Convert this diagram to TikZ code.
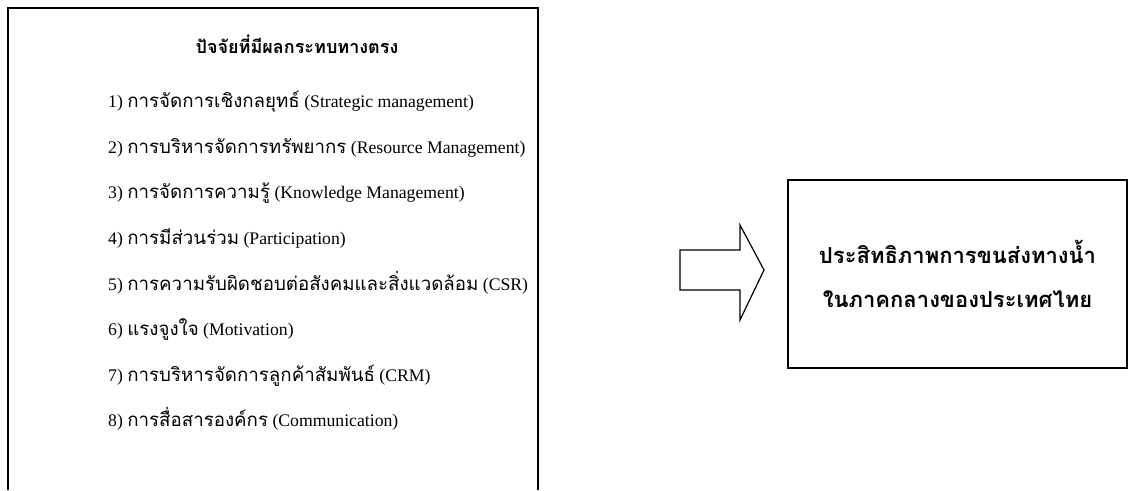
\documentclass[tikz,border=0pt]{standalone}
\usepackage{fontspec}
\setmainfont{Liberation Serif}
\newfontfamily\thai[Script=Thai]{Loma}
\newcommand{\thx}[1]{{\thai #1}}
\newcommand{\ti}[1]{{\fontsize{18.7}{20}\selectfont\thai #1}}
\begin{document}
\begin{tikzpicture}[x=1pt,y=-1pt,
  frame/.style={line width=1.3pt,black},
  item/.style={anchor=base west,inner sep=0pt,font=\fontsize{17.7}{20}\selectfont},
  title/.style={anchor=base,inner sep=0pt,font=\fontsize{18}{20}\selectfont\bfseries},
  blockarrow/.style={line width=1.2pt,line join=miter}]
\useasboundingbox (0,0) rectangle (1132,490);
% left box (open at bottom)
\draw[frame] (8,490) -- (8,8) -- (538,8) -- (538,490);
\node[title] (t) at (297,53) {\thx{ปัจจัยที่มีผลกระทบทางตรง}};
\node[item] (i1) at (108,107) {1) \ti{การจัดการเชิงกลยุทธ์} (Strategic management)};
\node[item] (i2) at (108,153) {2) \ti{การบริหารจัดการทรัพยากร} (Resource Management)};
\node[item] (i3) at (108,198) {3) \ti{การจัดการความรู้} (Knowledge Management)};
\node[item] (i4) at (108,244) {4) \ti{การมีส่วนร่วม} (Participation)};
\node[item] (i5) at (108,290) {5) \ti{การความรับผิดชอบต่อสังคมและสิ่งแวดล้อม} (CSR)};
\node[item] (i6) at (108,335) {6) \ti{แรงจูงใจ} (Motivation)};
\node[item] (i7) at (108,381) {7) \ti{การบริหารจัดการลูกค้าสัมพันธ์} (CRM)};
\node[item] (i8) at (108,426) {8) \ti{การสื่อสารองค์กร} (Communication)};
% right box
\node[draw,frame,minimum width=339pt,minimum height=188pt,inner sep=0pt,
  align=center,font=\fontsize{22}{44}\selectfont\bfseries] (r) at (957.5,274)
  {\thx{ประสิทธิภาพการขนส่งทางน้ำ}\\\thx{ในภาคกลางของประเทศไทย}};
% block arrow
\coordinate (a0) at (680,250);
\draw[blockarrow] (a0) -- (740,250) -- (740,225) -- (764,270) -- (740,320) -- (740,290) -- (680,290) -- cycle;
\end{tikzpicture}
\end{document}
